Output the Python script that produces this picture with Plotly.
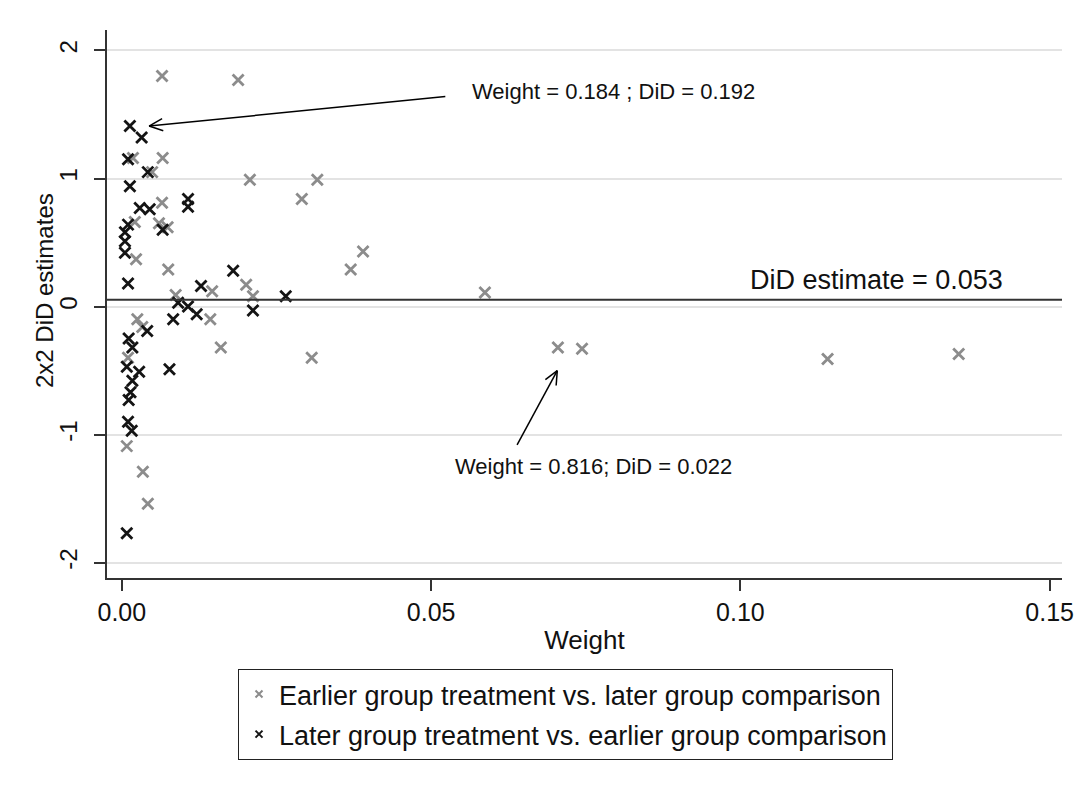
import math
import plotly.graph_objects as go

# ---------------- data ----------------
earlier_weight = [0.0065, 0.0188, 0.0066, 0.0018, 0.0049, 0.0207, 0.0316, 0.0291,
                  0.0065, 0.0021, 0.0060, 0.0074, 0.0023, 0.0075, 0.0370, 0.0390,
                  0.0201, 0.0212, 0.0146, 0.0587, 0.0087, 0.0143, 0.0025, 0.0033,
                  0.0160, 0.0307, 0.0705, 0.0744, 0.1141, 0.1353, 0.0010, 0.0008,
                  0.0034, 0.0042]
earlier_did = [1.80, 1.77, 1.16, 1.16, 1.05, 0.99, 0.99, 0.84,
               0.81, 0.66, 0.65, 0.62, 0.37, 0.29, 0.29, 0.43,
               0.17, 0.08, 0.12, 0.11, 0.09, -0.10, -0.10, -0.16,
               -0.32, -0.40, -0.32, -0.33, -0.41, -0.37, -0.40, -1.09,
               -1.29, -1.54]

later_weight = [0.0013, 0.0032, 0.0010, 0.0042, 0.0013, 0.0029, 0.0045, 0.0107,
                0.0107, 0.0010, 0.0066, 0.0005, 0.0005, 0.0005, 0.0010, 0.0128,
                0.0180, 0.0265, 0.0091, 0.0107, 0.0121, 0.0083, 0.0041, 0.0011,
                0.0017, 0.0008, 0.0028, 0.0077, 0.0017, 0.0014, 0.0011, 0.0010,
                0.0016, 0.0008, 0.0212]
later_did = [1.41, 1.32, 1.15, 1.05, 0.94, 0.77, 0.76, 0.84,
             0.78, 0.64, 0.60, 0.58, 0.51, 0.42, 0.18, 0.16,
             0.28, 0.08, 0.03, 0.00, -0.06, -0.10, -0.19, -0.25,
             -0.32, -0.47, -0.51, -0.49, -0.58, -0.67, -0.73, -0.90,
             -0.97, -1.77, -0.03]

did_estimate = 0.053
x_tick_vals = [0.0, 0.05, 0.10, 0.15]
x_tick_text = ["0.00", "0.05", "0.10", "0.15"]
y_tick_vals = [-2, -1, 0, 1, 2]
y_tick_text = ["-2", "-1", "0", "1", "2"]

series_names = ["Earlier group treatment vs. later group comparison",
                "Later group treatment vs. earlier group comparison"]

# annotation arrows: (tail_x, tail_y, tip_x, tip_y)
arrow1 = (0.0523, 1.64, 0.0044, 1.41)
arrow2 = (0.0639, -1.08, 0.0704, -0.50)
label1 = "Weight = 0.184 ; DiD = 0.192"
label2 = "Weight = 0.816; DiD = 0.022"
label_est = "DiD estimate = 0.053"

# ---------------- layout constants ----------------
W, H = 1086, 797
ML, MR, MT, MB = 107, 24, 30, 219
XR = [-0.0024, 0.152]
YR = [-2.12, 2.16]
PW, PH = W - ML - MR, H - MT - MB
FONT = "Liberation Sans, Arial, sans-serif"
GRAY = "#8c8c8c"
BLACK = "#141414"
AX = "#333333"


def to_px(x, y):
    return (ML + (x - XR[0]) / (XR[1] - XR[0]) * PW,
            MT + (YR[1] - y) / (YR[1] - YR[0]) * PH)


def to_data(px, py):
    return (XR[0] + (px - ML) / PW * (XR[1] - XR[0]),
            YR[1] - (py - MT) / PH * (YR[1] - YR[0]))


fig = go.Figure()

fig.add_trace(go.Scatter(x=earlier_weight, y=earlier_did, mode="markers",
                         marker=dict(symbol="x-thin", size=11, color=GRAY,
                                     line=dict(width=2.8, color=GRAY)),
                         showlegend=False, hoverinfo="skip"))
fig.add_trace(go.Scatter(x=later_weight, y=later_did, mode="markers",
                         marker=dict(symbol="x-thin", size=11, color=BLACK,
                                     line=dict(width=2.8, color=BLACK)),
                         showlegend=False, hoverinfo="skip"))
# legend entries (smaller markers as in the reference)
for name, col, grp in [(series_names[0], GRAY, "a"), (series_names[1], BLACK, "b")]:
    fig.add_trace(go.Scatter(x=[None], y=[None], mode="markers", name=name,
                             legendgroup=grp,
                             marker=dict(symbol="x-thin", size=7, color=col,
                                         line=dict(width=2, color=col))))

shapes = []
# DiD estimate line
shapes.append(dict(type="line", xref="paper", yref="y", x0=0, x1=1,
                   y0=did_estimate, y1=did_estimate,
                   line=dict(color=AX, width=2)))

annotations = []
for (tx, ty, hx, hy) in [arrow1, arrow2]:
    shapes.append(dict(type="line", xref="x", yref="y", x0=tx, y0=ty, x1=hx, y1=hy,
                       line=dict(color="black", width=1.5)))
    # open V arrowhead
    p_tail = to_px(tx, ty)
    p_tip = to_px(hx, hy)
    ang = math.atan2(p_tail[1] - p_tip[1], p_tail[0] - p_tip[0])
    for d in (0.42, -0.42):
        ex = p_tip[0] + 15 * math.cos(ang + d)
        ey = p_tip[1] + 15 * math.sin(ang + d)
        dx, dy = to_data(ex, ey)
        shapes.append(dict(type="line", xref="x", yref="y", x0=hx, y0=hy, x1=dx, y1=dy,
                           line=dict(color="black", width=1.5)))

annotations.append(dict(x=0.0563, y=1.68, xref="x", yref="y", text=label1,
                        showarrow=False, xanchor="left", yanchor="middle",
                        font=dict(family=FONT, size=22, color="#111")))
annotations.append(dict(x=0.0536, y=-1.25, xref="x", yref="y", text=label2,
                        showarrow=False, xanchor="left", yanchor="middle",
                        font=dict(family=FONT, size=22, color="#111")))
annotations.append(dict(x=0.1013, y=0.21, xref="x", yref="y", text=label_est,
                        showarrow=False, xanchor="left", yanchor="middle",
                        font=dict(family=FONT, size=27, color="#111")))
# y axis title
annotations.append(dict(x=(45 - ML) / PW, y=(MT + PH - 291) / PH, xref="paper", yref="paper",
                        text="2x2 DiD estimates", textangle=-90, showarrow=False,
                        xanchor="center", yanchor="middle",
                        font=dict(family=FONT, size=24, color="#111")))

fig.update_layout(
    width=W, height=H,
    margin=dict(l=ML, r=MR, t=MT, b=MB, autoexpand=False),
    paper_bgcolor="white", plot_bgcolor="white",
    font=dict(family=FONT, color="#111"),
    shapes=shapes, annotations=annotations,
    showlegend=True,
    legend=dict(x=(238 - ML) / PW, xanchor="left", y=(MT + PH - 669) / PH, yanchor="top",
                bordercolor="#222", borderwidth=1, bgcolor="white",
                font=dict(family=FONT, size=27, color="#111"),
                tracegroupgap=2, traceorder="grouped", itemwidth=30),
)
fig.update_xaxes(range=XR, tickvals=x_tick_vals, ticktext=x_tick_text,
                 showgrid=False, zeroline=False, showline=True, linecolor=AX, linewidth=1.5,
                 ticks="outside", ticklen=11, tickwidth=1.5, tickcolor=AX,
                 tickfont=dict(family=FONT, size=25, color="#111"),
                 title=dict(text="Weight", font=dict(family=FONT, size=26, color="#111"), standoff=6))
fig.update_yaxes(range=YR, tickvals=y_tick_vals, ticktext=y_tick_text, tickangle=-90,
                 showgrid=True, gridcolor="#e3e3e3", gridwidth=1.5,
                 zeroline=False, showline=True, linecolor=AX, linewidth=1.5,
                 ticks="outside", ticklen=11, tickwidth=1.5, tickcolor=AX,
                 ticklabelstandoff=8,
                 tickfont=dict(family=FONT, size=24, color="#111"))

fig.write_html("out.html")
